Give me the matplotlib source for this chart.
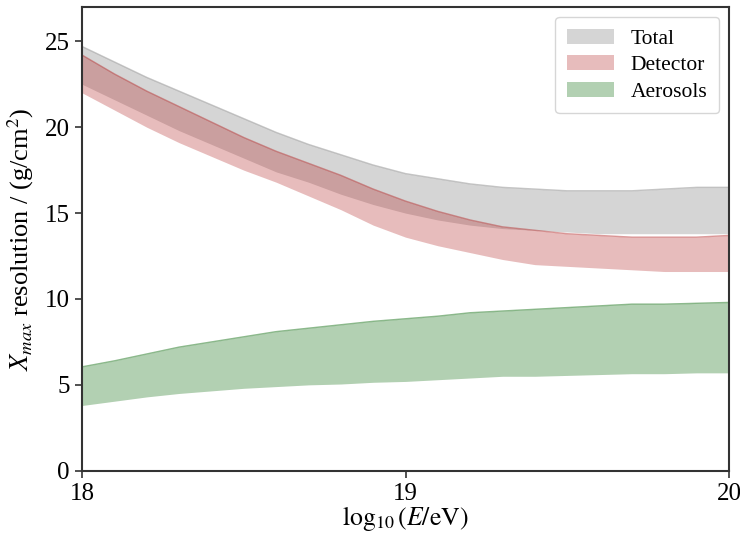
import numpy as np
import matplotlib
matplotlib.use('Agg')
import matplotlib.pyplot as plt

plt.rcParams['font.family'] = ['Liberation Serif', 'DejaVu Serif']
plt.rcParams['mathtext.fontset'] = 'stix'

# log10(E/eV)
logE = [18.0, 18.1, 18.2, 18.3, 18.4, 18.5, 18.6, 18.7, 18.8, 18.9, 19.0,
        19.1, 19.2, 19.3, 19.4, 19.5, 19.6, 19.7, 19.8, 19.9, 20.0]

# Total band
total_hi = [24.7, 23.8, 22.9, 22.1, 21.3, 20.5, 19.7, 19.0, 18.4, 17.8, 17.3,
            17.0, 16.7, 16.5, 16.4, 16.3, 16.3, 16.3, 16.4, 16.5, 16.5]
total_lo = [22.5, 21.6, 20.7, 19.8, 19.0, 18.2, 17.4, 16.8, 16.1, 15.5, 15.0,
            14.6, 14.3, 14.1, 14.0, 13.9, 13.8, 13.8, 13.8, 13.8, 13.8]

# Detector band
det_hi = [24.2, 23.1, 22.1, 21.2, 20.3, 19.4, 18.6, 17.9, 17.2, 16.4, 15.7,
          15.1, 14.6, 14.2, 14.0, 13.8, 13.7, 13.6, 13.6, 13.6, 13.7]
det_lo = [22.0, 21.0, 20.0, 19.1, 18.3, 17.5, 16.8, 16.0, 15.2, 14.3, 13.6,
          13.1, 12.7, 12.3, 12.0, 11.9, 11.8, 11.7, 11.6, 11.6, 11.6]

# Aerosols band
aer_hi = [6.05, 6.4, 6.8, 7.2, 7.5, 7.8, 8.1, 8.3, 8.5, 8.7, 8.85,
          9.0, 9.2, 9.3, 9.4, 9.5, 9.6, 9.7, 9.7, 9.75, 9.8]
aer_lo = [3.8, 4.05, 4.3, 4.5, 4.65, 4.8, 4.9, 5.0, 5.05, 5.15, 5.2,
          5.3, 5.4, 5.5, 5.5, 5.55, 5.6, 5.65, 5.65, 5.7, 5.7]

fig = plt.figure(figsize=(7.4, 5.38), dpi=100)
ax = fig.add_axes([0.111, 0.125, 0.874, 0.862])

bands = [
    (total_hi, total_lo, 'gray', 0.33, 'Total'),
    (det_hi, det_lo, 'firebrick', 0.3, 'Detector'),
    (aer_hi, aer_lo, 'darkgreen', 0.3, 'Aerosols'),
]
for hi, lo, col, a, lab in bands:
    ax.fill_between(logE, lo, hi, color=col, alpha=a, linewidth=0, label=lab)
    ax.plot(logE, hi, color=col, alpha=0.45, linewidth=1.0)

ax.set_xlim(18, 20)
ax.set_ylim(0, 27)
ax.set_xticks([18, 19, 20])
ax.set_yticks([0, 5, 10, 15, 20, 25])
ax.tick_params(labelsize=18, direction='out', length=5, width=1.2, color='#333333',
               pad=4)
for s in ax.spines.values():
    s.set_linewidth(1.5)
    s.set_color('#333333')

ax.set_xlabel(r'$\log_{10}(E/\mathrm{eV})$', fontsize=18.5, labelpad=-1)
ax.set_ylabel(r'$X_{max}$ resolution / (g/cm$^2$)', fontsize=19, labelpad=6)

leg = ax.legend(loc='upper right', fontsize=15.5, handlelength=2.2, borderpad=0.55,
                labelspacing=0.3, handletextpad=0.75, borderaxespad=0.45)

fig.savefig('out.png', dpi=100)
